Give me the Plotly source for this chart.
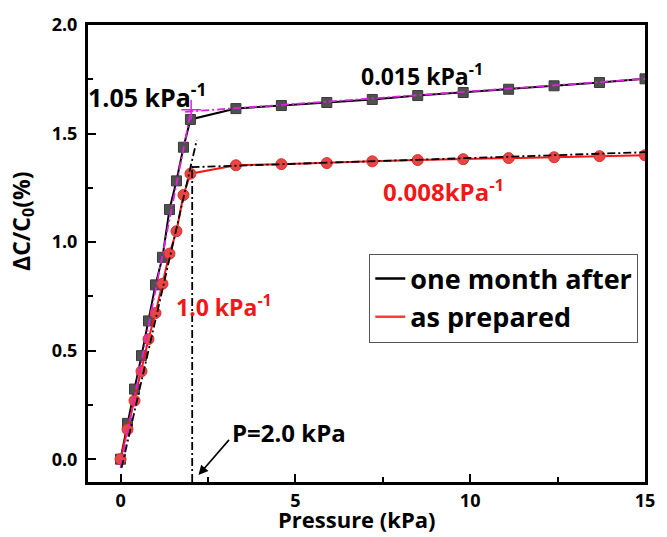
import plotly.graph_objects as go

# Pressure steps (kPa) shared by both measurement series
pressure = [0, 0.2, 0.4, 0.6, 0.8, 1.0, 1.2, 1.4, 1.6, 1.8, 2.0,
            3.3, 4.6, 5.9, 7.2, 8.5, 9.8, 11.1, 12.4, 13.7, 15.0]

# Relative capacitance change, ΔC/C0 (%)
one_month_after = [0, 0.165, 0.323, 0.477, 0.637, 0.803, 0.93, 1.15, 1.282, 1.437, 1.565,
                   1.615, 1.629, 1.643, 1.657, 1.675, 1.689, 1.704, 1.72, 1.735, 1.752]
as_prepared = [0, 0.137, 0.27, 0.405, 0.553, 0.673, 0.808, 0.947, 1.05, 1.217, 1.315,
               1.354, 1.359, 1.364, 1.372, 1.378, 1.382, 1.387, 1.391, 1.396, 1.40]

# Linear fits of the two sensing regimes
fit_month_low_x = [0.0, 2.02]
fit_month_low_y = [-0.04, 1.61]
fit_month_high_x = [1.85, 15.0]
fit_month_high_y = [1.600, 1.752]
fit_prep_low_x = [0.03, 2.18]
fit_prep_low_y = [-0.04, 1.47]
fit_prep_high_x = [2.03, 15.0]
fit_prep_high_y = [1.345, 1.414]
knee_x = [2.05, 2.05]
knee_y = [-0.105, 1.35]
cross_x = [2.02]
cross_y = [1.61]

FONT = "Open Sans"
RED = "#f01818"

fig = go.Figure()

fig.add_trace(go.Scatter(x=pressure, y=one_month_after, mode="lines+markers",
                         line=dict(color="black", width=2),
                         marker=dict(symbol="square", size=10, color="#505050",
                                     line=dict(color="#3a3a3a", width=1)),
                         showlegend=False))
fig.add_trace(go.Scatter(x=pressure, y=as_prepared, mode="lines+markers",
                         line=dict(color=RED, width=2),
                         marker=dict(symbol="circle", size=11, color="#ea4545",
                                     line=dict(color="#d83030", width=1)),
                         showlegend=False))

dashdot = "8px,3px,2px,3px"
for fx, fy, col in [(fit_month_low_x, fit_month_low_y, "#e020e0"),
                    (fit_month_high_x, fit_month_high_y, "#e020e0"),
                    (fit_prep_low_x, fit_prep_low_y, "black"),
                    (fit_prep_high_x, fit_prep_high_y, "black"),
                    (knee_x, knee_y, "black")]:
    fig.add_trace(go.Scatter(x=fx, y=fy, mode="lines",
                             line=dict(color=col, width=1.8, dash=dashdot),
                             showlegend=False, hoverinfo="skip"))

fig.add_trace(go.Scatter(x=cross_x, y=cross_y, mode="markers",
                         marker=dict(symbol="cross-thin", size=14,
                                     line=dict(color="#e020e0", width=1.5)),
                         showlegend=False))

# legend entries (line samples only)
fig.add_trace(go.Scatter(x=[None], y=[None], mode="lines", name="one month after",
                         line=dict(color="black", width=2.5)))
fig.add_trace(go.Scatter(x=[None], y=[None], mode="lines", name="as prepared",
                         line=dict(color="#ff3b3b", width=2.5)))

def label(x, y, text, color="black", size=23):
    fig.add_annotation(x=x, y=y, text=text, showarrow=False,
                       xanchor="center", yanchor="middle",
                       font=dict(family=FONT, size=size, color=color, weight="bold"))

label(0.75, 1.675, "1.05 kPa<sup>-1</sup>", size=25)
label(8.62, 1.771, "0.015 kPa<sup>-1</sup>")
label(9.24, 1.24, "0.008kPa<sup>-1</sup>", color=RED, size=24)
label(2.97, 0.705, "1.0 kPa<sup>-1</sup>", color=RED)
label(4.83, 0.124, "P=2.0 kPa", size=24)

fig.add_annotation(x=2.23, y=-0.073, ax=3.14, ay=0.096, axref="x", ayref="y",
                   xref="x", yref="y", text="", showarrow=True,
                   arrowhead=2, arrowsize=1.2, arrowwidth=1.6, arrowcolor="black")

# axis titles
fig.add_annotation(xref="paper", yref="y", x=-0.118, y=1.094,
                   text="ΔC/C<sub>0</sub>(%)", textangle=-90, showarrow=False,
                   xanchor="center", yanchor="middle",
                   font=dict(family=FONT, size=23, color="black", weight="bold"))
fig.add_annotation(xref="x", yref="paper", x=6.75, y=-0.118,
                   text="Pressure (kPa)", showarrow=False,
                   xanchor="center", yanchor="bottom",
                   font=dict(family=FONT, size=22, color="black", weight="bold"))

axis_common = dict(showline=True, linecolor="black", linewidth=3, mirror=True,
                   showgrid=False, zeroline=False, ticks="inside", ticklen=8,
                   tickwidth=2, tickcolor="black",
                   tickfont=dict(family=FONT, size=18, color="black", weight="bold"))

fig.update_xaxes(range=[-0.93, 15], tickvals=[0, 5, 10, 15],
                 minor=dict(tickvals=[2.5, 7.5, 12.5], ticks="inside", ticklen=5,
                            tickwidth=2, tickcolor="black"),
                 **axis_common)
fig.update_yaxes(range=[-0.105, 2.0], tickvals=[0, 0.5, 1.0, 1.5, 2.0],
                 tickformat=".1f", ticklabelstandoff=4,
                 minor=dict(tickvals=[0.25, 0.75, 1.25, 1.75], ticks="inside", ticklen=5,
                            tickwidth=2, tickcolor="black"),
                 **axis_common)

fig.update_layout(
    width=667, height=537,
    margin=dict(l=88, r=15, t=22, b=55),
    paper_bgcolor="white", plot_bgcolor="white",
    legend=dict(x=0.505, y=0.5, xanchor="left", yanchor="top",
                bgcolor="white", bordercolor="#555555", borderwidth=1,
                font=dict(family=FONT, size=27, color="black", weight="bold"),
                tracegroupgap=0, itemwidth=30),
)

fig.write_html("out.html")
